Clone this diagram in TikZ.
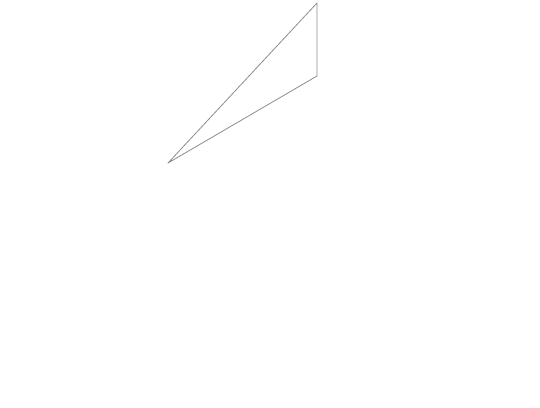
\documentclass[tikz,border=0pt]{standalone}
\begin{document}
\begin{tikzpicture}[x=1pt,y=-1pt, edge/.style={draw=black!45, line width=0.8pt, line join=round}]
\useasboundingbox (0,0) rectangle (540,407);
\coordinate (a) at (317,3);
\coordinate (b) at (317,76);
\coordinate (c) at (168,163);
\draw[edge] (a) -- (b) -- (c) -- cycle;
\end{tikzpicture}
\end{document}
